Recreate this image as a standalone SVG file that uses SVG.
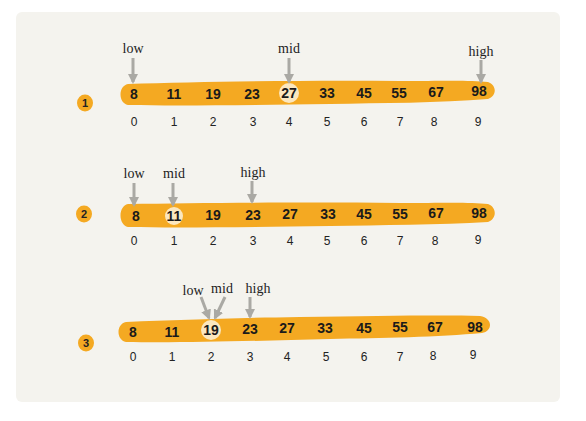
<svg xmlns="http://www.w3.org/2000/svg" width="586" height="421" viewBox="0 0 586 421">
<defs>
<style>
.band{fill:#f4a922}
.hl{fill:#fbe7bf}
.num{font-family:"Liberation Sans",Arial,sans-serif;font-size:14px;font-weight:bold;fill:#1a1a1a;text-anchor:middle}
.idx{font-family:"Liberation Sans",Arial,sans-serif;font-size:12px;fill:#222;text-anchor:middle}
.lbl{font-family:"Liberation Serif","Times New Roman",serif;font-size:14px;fill:#222;text-anchor:middle}
.badge{fill:#f4a922}
.btxt{font-family:"Liberation Sans",Arial,sans-serif;font-size:11px;font-weight:bold;fill:#222;text-anchor:middle}
.arr{stroke:#aaa9a4;stroke-width:3;fill:none}
</style>
<marker id="ah" viewBox="0 0 10 10" refX="8" refY="5" markerWidth="3.4" markerHeight="3.4" orient="auto" markerUnits="strokeWidth">
<path d="M0,0 L10,5 L0,10 Z" fill="#aaa9a4"/>
</marker>
</defs>
<rect x="0" y="0" width="586" height="421" fill="#ffffff"/>
<rect x="16" y="12" width="544" height="390" rx="6" fill="#f4f3ee"/>

<g id="row1">
<path class="band" d="M128,84 C200,82 300,80 400,81 C440,81 470,80 488,82 C497,85 497,96 488,99 C440,103 380,103 330,104 C250,105 180,106 128,105 C118,103 118,86 128,84 Z"/>
<circle class="hl" cx="289" cy="93" r="10"/>
<g class="num">
<text x="134" y="99">8</text><text x="174" y="99">11</text><text x="213" y="99">19</text><text x="252" y="99">23</text><text x="289" y="98">27</text><text x="327" y="98">33</text><text x="364" y="98">45</text><text x="399" y="98">55</text><text x="436" y="97">67</text><text x="479" y="96">98</text>
</g>
<g class="idx">
<text x="134" y="126">0</text><text x="174" y="126">1</text><text x="213" y="126">2</text><text x="253" y="126">3</text><text x="289" y="126">4</text><text x="327" y="126">5</text><text x="364" y="126">6</text><text x="400" y="126">7</text><text x="434" y="126">8</text><text x="478" y="126">9</text>
</g>
<g id="badge1"><ellipse class="badge" cx="85" cy="103" rx="8" ry="8.5"/><text class="btxt" x="85" y="107">1</text></g>
<g class="lbl"><text x="133" y="53">low</text><text x="289" y="53">mid</text><text x="481" y="56">high</text></g>
</g>

<g id="row2">
<path class="band" d="M128,204 C200,203 300,202 400,203 C440,203 470,202 488,204 C497,207 497,219 488,222 C440,225 380,225 330,226 C250,227 180,228 128,227 C118,225 118,206 128,204 Z"/>
<circle class="hl" cx="174" cy="216" r="9"/>
<g class="num">
<text x="136" y="221">8</text><text x="174" y="221">11</text><text x="213" y="220">19</text><text x="253" y="220">23</text><text x="290" y="219">27</text><text x="328" y="219">33</text><text x="364" y="219">45</text><text x="400" y="219">55</text><text x="436" y="218">67</text><text x="479" y="218">98</text>
</g>
<g class="idx">
<text x="134" y="245">0</text><text x="174" y="245">1</text><text x="213" y="245">2</text><text x="253" y="245">3</text><text x="290" y="245">4</text><text x="327" y="245">5</text><text x="364" y="245">6</text><text x="400" y="245">7</text><text x="435" y="245">8</text><text x="478" y="244">9</text>
</g>
<g id="badge2"><ellipse class="badge" cx="84" cy="214" rx="8" ry="8.5"/><text class="btxt" x="84" y="218">2</text></g>
<g class="lbl"><text x="134" y="178">low</text><text x="174" y="178">mid</text><text x="253" y="177">high</text></g>
</g>

<g id="row3">
<path class="band" d="M126,322 C180,320 230,318 300,317 C380,316 440,315 480,316 C493,318 493,331 482,333 C440,337 380,338 330,339 C250,341 180,343 126,342 C116,340 116,324 126,322 Z"/>
<circle class="hl" cx="211" cy="330" r="10"/>
<g class="num">
<text x="133" y="337">8</text><text x="172" y="337">11</text><text x="211" y="335">19</text><text x="250" y="334">23</text><text x="287" y="333">27</text><text x="325" y="333">33</text><text x="364" y="333">45</text><text x="400" y="332">55</text><text x="435" y="332">67</text><text x="475" y="332">98</text>
</g>
<g class="idx">
<text x="133" y="361">0</text><text x="172" y="361">1</text><text x="211" y="361">2</text><text x="250" y="361">3</text><text x="287" y="361">4</text><text x="326" y="361">5</text><text x="364" y="361">6</text><text x="400" y="361">7</text><text x="433" y="360">8</text><text x="473" y="359">9</text>
</g>
<g id="badge3"><ellipse class="badge" cx="86" cy="343" rx="8" ry="8.5"/><text class="btxt" x="86" y="347">3</text></g>
<g class="lbl"><text x="193" y="295">low</text><text x="222" y="293">mid</text><text x="258" y="293">high</text></g>
</g>

<g id="connectors">
<line class="arr" x1="133" y1="58" x2="133" y2="82" marker-end="url(#ah)"/>
<line class="arr" x1="289" y1="58" x2="289" y2="82" marker-end="url(#ah)"/>
<line class="arr" x1="481" y1="60" x2="481" y2="82" marker-end="url(#ah)"/>
<line class="arr" x1="134" y1="183" x2="134" y2="205" marker-end="url(#ah)"/>
<line class="arr" x1="173" y1="183" x2="173" y2="205" marker-end="url(#ah)"/>
<line class="arr" x1="252" y1="181" x2="252" y2="202" marker-end="url(#ah)"/>
<line class="arr" x1="201" y1="297" x2="209" y2="318" marker-end="url(#ah)"/>
<line class="arr" x1="225" y1="297" x2="215" y2="318" marker-end="url(#ah)"/>
<line class="arr" x1="250" y1="297" x2="250" y2="317" marker-end="url(#ah)"/>
</g>
</svg>
